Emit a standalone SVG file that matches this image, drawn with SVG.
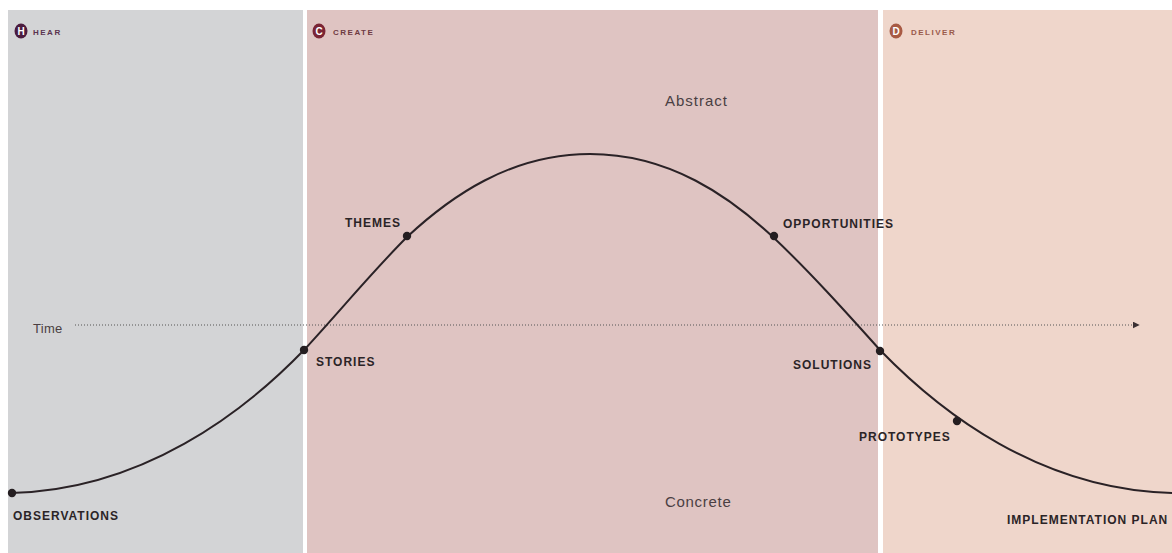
<svg xmlns="http://www.w3.org/2000/svg" width="1172" height="553" viewBox="0 0 1172 553">
<style>
.lbl{font-family:"Liberation Sans",Arial,sans-serif;font-weight:bold;font-size:12px;letter-spacing:1px;fill:#2b2427}
.axis{font-family:"Liberation Sans",Arial,sans-serif;font-size:15px;fill:#4a3f42}
.hdr{font-family:"Liberation Sans",Arial,sans-serif;font-weight:bold;font-size:8px;letter-spacing:1.5px}
.ico{font-family:"Liberation Sans",Arial,sans-serif;font-weight:bold;font-size:10px;fill:#ffffff;text-anchor:middle}
.dot{fill:#241e21}
</style>
<defs>
<marker id="arr" viewBox="0 0 10 10" refX="9" refY="5" markerWidth="7" markerHeight="7" orient="auto" markerUnits="userSpaceOnUse">
<path d="M0,0 L10,5 L0,10 z" fill="#3a3033"/>
</marker>
</defs>
<rect x="0" y="0" width="1172" height="553" fill="#ffffff"/>
<g id="panel-hear">
<rect x="8" y="10" width="295" height="543" fill="#d3d4d6"/>
<ellipse cx="21" cy="31" rx="6.5" ry="7.5" fill="#4b1c3f"/>
<text class="ico" x="21" y="34.5">H</text>
<text class="hdr" x="33" y="35" fill="#5a3450">HEAR</text>
</g>
<g id="panel-create">
<rect x="307" y="10" width="571" height="543" fill="#dfc4c2"/>
<ellipse cx="319" cy="31" rx="6.5" ry="7.5" fill="#7b2434"/>
<text class="ico" x="319" y="34.5">C</text>
<text class="hdr" x="333" y="35" fill="#6e3a42">CREATE</text>
</g>
<g id="panel-deliver">
<rect x="883" y="10" width="289" height="543" fill="#efd6cb"/>
<ellipse cx="896" cy="31" rx="6.5" ry="7.5" fill="#a85a44"/>
<text class="ico" x="896" y="34.5">D</text>
<text class="hdr" x="911" y="35" fill="#9a5a4a">DELIVER</text>
</g>
<g id="connectors">
<line x1="75" y1="325" x2="1139" y2="325" stroke="#555" stroke-width="1" stroke-dasharray="1 2" marker-end="url(#arr)"/>
<path d="M11,493 C143,490 244,412 304,350 C340,311 372,272 407,237 C450,197 510,154 590,154 C670,154 730,197 773,237 C810,272 845,311 880,350 C940,412 1040,490 1172,493" fill="none" stroke="#2a2226" stroke-width="2"/>
</g>
<g id="axis-labels">
<text class="axis" x="33" y="333" style="font-size:13px;letter-spacing:0.3px">Time</text>
<text class="axis" x="665" y="106" style="letter-spacing:1px">Abstract</text>
<text class="axis" x="665" y="507" style="letter-spacing:0.7px">Concrete</text>
</g>
<g id="node-observations">
<circle class="dot" cx="12" cy="493" r="4.2"/>
<text class="lbl" x="13" y="520">OBSERVATIONS</text>
</g>
<g id="node-stories">
<circle class="dot" cx="304" cy="350" r="4.2"/>
<text class="lbl" x="316" y="366">STORIES</text>
</g>
<g id="node-themes">
<circle class="dot" cx="407" cy="236" r="4.2"/>
<text class="lbl" x="345" y="227">THEMES</text>
</g>
<g id="node-opportunities">
<circle class="dot" cx="774" cy="236" r="4.2"/>
<text class="lbl" x="783" y="228">OPPORTUNITIES</text>
</g>
<g id="node-solutions">
<circle class="dot" cx="880" cy="351" r="4.2"/>
<text class="lbl" x="793" y="369">SOLUTIONS</text>
</g>
<g id="node-prototypes">
<circle class="dot" cx="957" cy="421" r="4.2"/>
<text class="lbl" x="859" y="441">PROTOTYPES</text>
</g>
<g id="node-implementation">
<text class="lbl" x="1007" y="524">IMPLEMENTATION PLAN</text>
</g>
</svg>
